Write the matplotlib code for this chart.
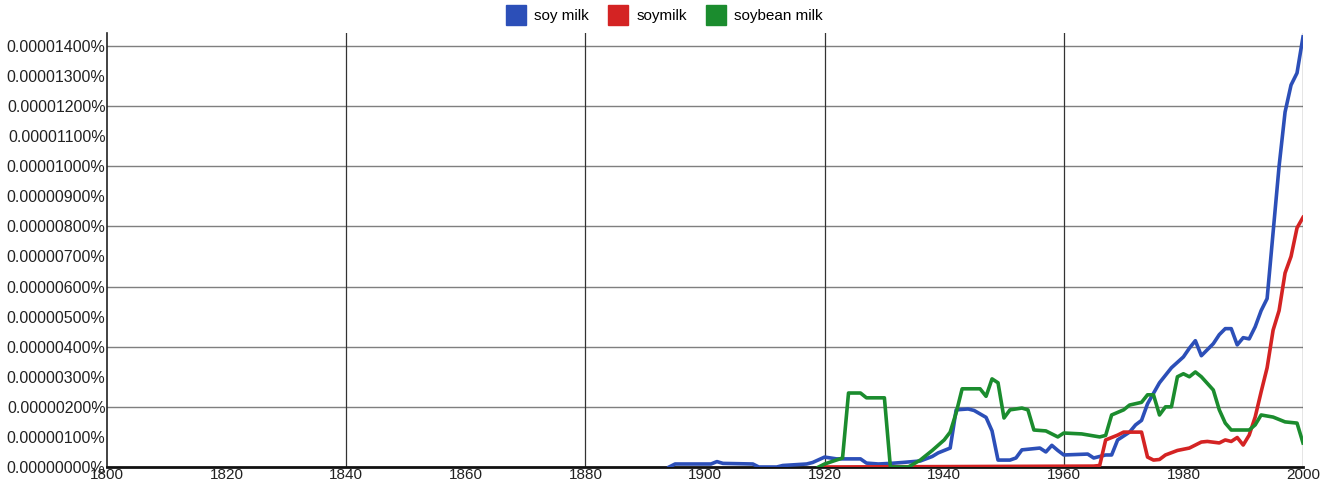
import matplotlib
matplotlib.use("Agg")
import matplotlib.pyplot as plt
from matplotlib.lines import Line2D

plt.rcParams['font.family'] = ['Liberation Sans', 'DejaVu Sans']

# values in units of 0.000001 %
soy_milk_years = [1894, 1895, 1901, 1902, 1903, 1908, 1909, 1912, 1913, 1917, 1918,
                  1920, 1922, 1926, 1927, 1929, 1931, 1933, 1936, 1938, 1939, 1941, 1942,
                  1944, 1945, 1947, 1948, 1949, 1951, 1952, 1953, 1956, 1957, 1958, 1959,
                  1960, 1964, 1965, 1967, 1968, 1969, 1971, 1972, 1973, 1974, 1976, 1978,
                  1980, 1981, 1982, 1983, 1985, 1986, 1987, 1988, 1989, 1990, 1991, 1992,
                  1993, 1994, 1996, 1997, 1998, 1999, 2000]
soy_milk = [0, 0.1, 0.1, 0.18, 0.12, 0.1, 0, 0, 0.05, 0.1, 0.15,
            0.33, 0.27, 0.27, 0.13, 0.1, 0.12, 0.15, 0.2, 0.35, 0.47, 0.63, 1.9,
            1.93, 1.88, 1.65, 1.2, 0.23, 0.23, 0.3, 0.57, 0.63, 0.5, 0.72, 0.55,
            0.4, 0.43, 0.3, 0.4, 0.4, 0.9, 1.16, 1.4, 1.55, 2.1, 2.8, 3.3,
            3.66, 3.95, 4.2, 3.7, 4.1, 4.4, 4.6, 4.6, 4.06, 4.3, 4.26, 4.66,
            5.2, 5.6, 10.0, 11.8, 12.7, 13.1, 14.3]

soymilk_years = [1920, 1965, 1966, 1967, 1969, 1970, 1973, 1974, 1975, 1976, 1977, 1979,
                 1981, 1983, 1984, 1986, 1987, 1988, 1989, 1990, 1991, 1992, 1993, 1994,
                 1995, 1996, 1997, 1998, 1999, 2000]
soymilk = [0, 0.03, 0.05, 0.9, 1.06, 1.16, 1.16, 0.33, 0.23, 0.25, 0.4, 0.55,
           0.63, 0.83, 0.85, 0.8, 0.9, 0.85, 0.98, 0.73, 1.06, 1.66, 2.5, 3.3,
           4.55, 5.2, 6.45, 7.0, 7.95, 8.3]

soybean_years = [1919, 1920, 1923, 1924, 1926, 1927, 1930, 1931, 1934, 1936, 1938,
                 1940, 1941, 1942, 1943, 1946, 1947, 1948, 1949, 1950, 1951, 1953, 1954,
                 1955, 1957, 1959, 1960, 1963, 1966, 1967, 1968, 1970, 1971, 1973, 1974,
                 1975, 1976, 1977, 1978, 1979, 1980, 1981, 1982, 1983, 1985, 1986, 1987,
                 1988, 1991, 1992, 1993, 1995, 1997, 1999, 2000]
soybean_milk = [0, 0.1, 0.3, 2.46, 2.46, 2.3, 2.3, 0, 0, 0.23, 0.55,
                0.9, 1.16, 1.8, 2.6, 2.6, 2.35, 2.93, 2.8, 1.63, 1.9, 1.96, 1.9,
                1.23, 1.2, 1.0, 1.13, 1.1, 1.0, 1.05, 1.73, 1.9, 2.06, 2.15, 2.4,
                2.4, 1.73, 2.0, 2.0, 3.0, 3.1, 3.0, 3.16, 3.0, 2.56, 1.9, 1.46,
                1.23, 1.23, 1.4, 1.73, 1.66, 1.5, 1.46, 0.8]

labels = ["soy milk", "soymilk", "soybean milk"]
colors = ["#2c4fb8", "#d42323", "#1b8c2e"]

fig = plt.figure(figsize=(13.23, 4.92), dpi=100)
ax = fig.add_axes([107 / 1323, 1 - 467 / 492, 1196 / 1323, 434 / 492])

ax.plot(soy_milk_years, soy_milk, color=colors[0], lw=2.6, zorder=3)
ax.plot(soymilk_years, soymilk, color=colors[1], lw=2.6, zorder=3)
ax.plot(soybean_years, soybean_milk, color=colors[2], lw=2.6, zorder=4)

ax.set_xlim(1800, 2000)
ax.set_ylim(0, 14.43)

# grid lines
for v in range(2, 15, 2):
    ax.axhline(v, color="#7f7f7f", lw=1.0, zorder=1)
for yr in range(1840, 2001, 40):
    ax.axvline(yr, color="#333333", lw=0.9, zorder=1)

ax.set_xticks(range(1800, 2001, 20))
ax.set_yticks(range(0, 15))
ax.set_yticklabels([f"{v * 1e-6:.8f}%" for v in range(0, 15)])
ax.tick_params(axis="y", length=0, pad=1, labelsize=11.5, labelcolor="#222222")
ax.tick_params(axis="x", length=0, pad=1, labelsize=11, labelcolor="#222222")

for s in ["top", "right"]:
    ax.spines[s].set_visible(False)
ax.spines["left"].set_color("#222222")
ax.spines["left"].set_linewidth(1.2)
ax.spines["bottom"].set_color("#111111")
ax.spines["bottom"].set_linewidth(2)

handles = [Line2D([], [], marker="s", ls="none", markersize=14, color=c) for c in colors]
fig.legend(handles, labels, loc="upper center", bbox_to_anchor=(0.5, 1.0), ncol=3,
           frameon=False, fontsize=11, handletextpad=0.2, columnspacing=0.9,
           borderaxespad=0.2)

fig.savefig("out.png", dpi=100)
